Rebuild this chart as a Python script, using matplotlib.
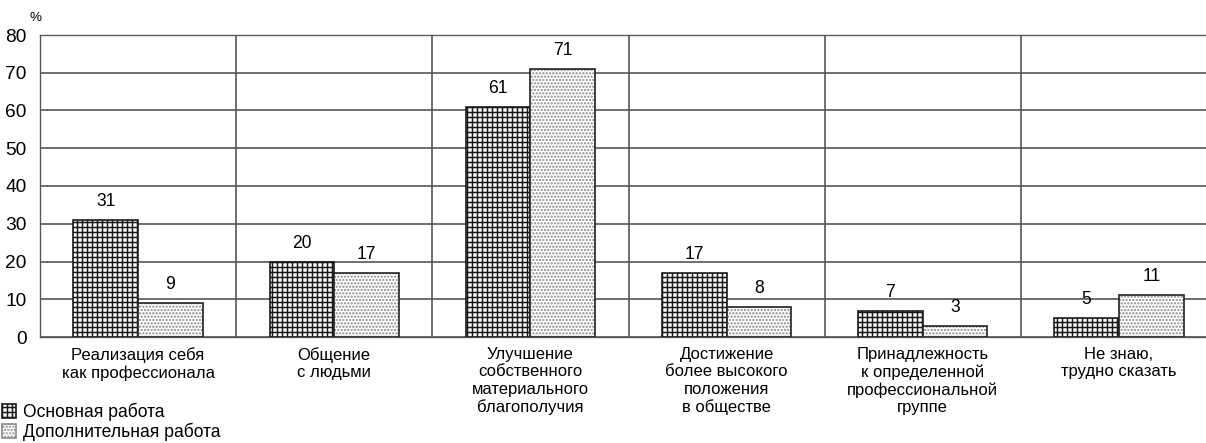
import numpy as np
import matplotlib.pyplot as plt
from matplotlib.patches import Patch

plt.rcParams['font.family'] = ['Liberation Sans Narrow', 'Liberation Sans', 'DejaVu Sans']
plt.rcParams['hatch.linewidth'] = 0.9

# Data
categories = [
    'Реализация себя\nкак профессионала',
    'Общение\nс людьми',
    'Улучшение\nсобственного\nматериального\nблагополучия',
    'Достижение\nболее высокого\nположения\nв обществе',
    'Принадлежность\nк определенной\nпрофессиональной\nгруппе',
    'Не знаю,\nтрудно сказать',
]
main_job = [31, 20, 61, 17, 7, 5]
extra_job = [9, 17, 71, 8, 3, 11]
series_names = ['Основная работа', 'Дополнительная работа']
y_ticks = [0, 10, 20, 30, 40, 50, 60, 70, 80]

W, H, DPI = 1206, 443, 120
fig = plt.figure(figsize=(W / DPI, H / DPI), dpi=DPI)
ax = fig.add_axes([40 / W, 1 - 337 / H, 1177 / W, (337 - 35) / H])

x = np.arange(len(categories))
w = 0.33
b1 = ax.bar(x - w / 2, main_job, w, facecolor='white', edgecolor='#1a1a1a',
            hatch='++++', linewidth=1.0, zorder=3)
# dotted bars: light dots first, dark outline on top
ax.bar(x + w / 2, extra_job, w, facecolor='white', edgecolor='#8a8a8a',
       hatch='......', linewidth=0, zorder=3)
b2 = ax.bar(x + w / 2, extra_job, w, fill=False, edgecolor='#222222',
            linewidth=1.0, zorder=4)

for bars, vals in ((b1, main_job), (b2, extra_job)):
    for r, v in zip(bars, vals):
        ax.annotate(str(v), (r.get_x() + r.get_width() / 2, v), xytext=(0, 6),
                    textcoords='offset points', ha='center', va='bottom', fontsize=10.5)

ax.set_xlim(-0.5, len(categories) - 0.5)
ax.set_ylim(0, 80)
ax.set_yticks(y_ticks)
ax.set_xticks(x)
ax.set_xticklabels(categories, fontsize=10, linespacing=1.2)
ax.set_xticks(x[:-1] + 0.5, minor=True)
ax.tick_params(axis='x', which='both', length=0, pad=6)
ax.tick_params(axis='y', length=0, pad=8, labelsize=11.5)
ax.grid(axis='y', color='#555555', linewidth=1.0, zorder=0)
ax.grid(axis='x', which='minor', color='#555555', linewidth=1.0, zorder=0)
for side in ('left', 'bottom', 'top'):
    ax.spines[side].set_color('#555555')
ax.spines['right'].set_visible(False)

fig.text(30 / W, 1 - 18 / H, '%', fontsize=8, ha='left', va='center')

handles = [
    Patch(facecolor='white', edgecolor='#1a1a1a', hatch='++++', linewidth=1.0),
    Patch(facecolor='white', edgecolor='#8a8a8a', hatch='......', linewidth=1.0),
]
fig.legend(handles=handles, labels=series_names, loc='lower left', bbox_to_anchor=(0.0, 0.0),
           frameon=False, fontsize=10.5, handlelength=0.8, handleheight=0.8,
           handletextpad=0.4, labelspacing=0.1, borderpad=0.1, borderaxespad=0.0)

fig.savefig('out.png', dpi=DPI)
